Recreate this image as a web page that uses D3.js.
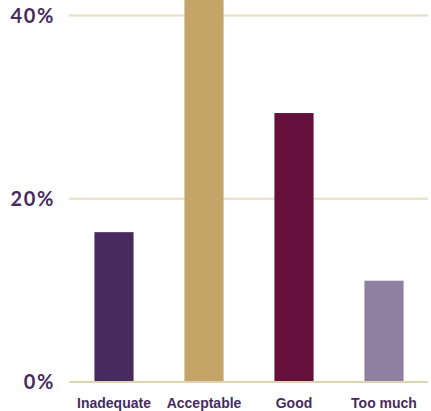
<!DOCTYPE html>
<html>
<head>
<meta charset="utf-8">
<script src="https://cdn.jsdelivr.net/npm/d3@7"></script>
<style>
  html, body { margin: 0; padding: 0; background: #ffffff; }
  svg { display: block; }
</style>
</head>
<body>
<svg id="chart" width="431" height="411"></svg>
<script>
const categories = ["Inadequate", "Acceptable", "Good", "Too much"];
const values = [16.3, 45, 29.3, 11];
const barColors = ["#472b5f", "#c4a467", "#650f3d", "#8f7fa0"];
const yTicks = [0, 20, 40];
const yTickLabels = ["0%", "20%", "40%"];

const svg = d3.select("#chart");
const W = 431, H = 411;
const margin = { left: 69, right: 2, top: 15, bottom: 29.5 };

const x = d3.scaleBand()
  .domain(categories)
  .range([margin.left, W - margin.right])
  .paddingInner(0.565)
  .paddingOuter(0.2825);

const y = d3.scaleLinear()
  .domain([0, 40])
  .range([H - margin.bottom, margin.top]);

// gridlines (drawn first, below the bars)
const yAxis = d3.axisLeft(y)
  .tickValues(yTicks)
  .tickSize(-(W - margin.right - margin.left - 1))
  .tickFormat((d, i) => yTickLabels[i]);

const gy = svg.append("g")
  .attr("transform", `translate(${margin.left},0)`)
  .call(yAxis);
gy.select(".domain").remove();
gy.selectAll(".tick line")
  .attr("stroke", "#e8dcc2")
  .attr("stroke-width", 2);
gy.selectAll(".tick text")
  .attr("x", -14)
  .attr("dy", "0.36em")
  .attr("fill", "#472b5f")
  .style("font-family", "Lato, 'Open Sans', sans-serif")
  .style("font-weight", "bold")
  .style("font-size", "20px")
  .style("letter-spacing", "1.6px");

// bars
svg.append("g").selectAll("rect.bar")
  .data(values)
  .join("rect")
  .attr("class", "bar")
  .attr("x", (d, i) => x(categories[i]))
  .attr("width", x.bandwidth())
  .attr("y", d => y(d))
  .attr("height", d => y(0) - y(d))
  .attr("fill", (d, i) => barColors[i]);

// baseline on top
svg.append("line")
  .attr("x1", margin.left)
  .attr("x2", W - margin.right - 1)
  .attr("y1", y(0) + 0.5)
  .attr("y2", y(0) + 0.5)
  .attr("stroke", "#e0d3b2")
  .attr("stroke-width", 2);

// x axis labels
const xAxis = d3.axisBottom(x).tickSize(0);
const gx = svg.append("g")
  .attr("transform", `translate(0,${y(0)})`)
  .call(xAxis);
gx.select(".domain").remove();
gx.selectAll(".tick text")
  .attr("y", 0)
  .attr("dy", "26.5px")
  .attr("fill", "#472b5f")
  .style("font-family", "'Liberation Sans', Arial, sans-serif")
  .style("font-weight", "bold")
  .style("font-size", "14px");
</script>
</body>
</html>
